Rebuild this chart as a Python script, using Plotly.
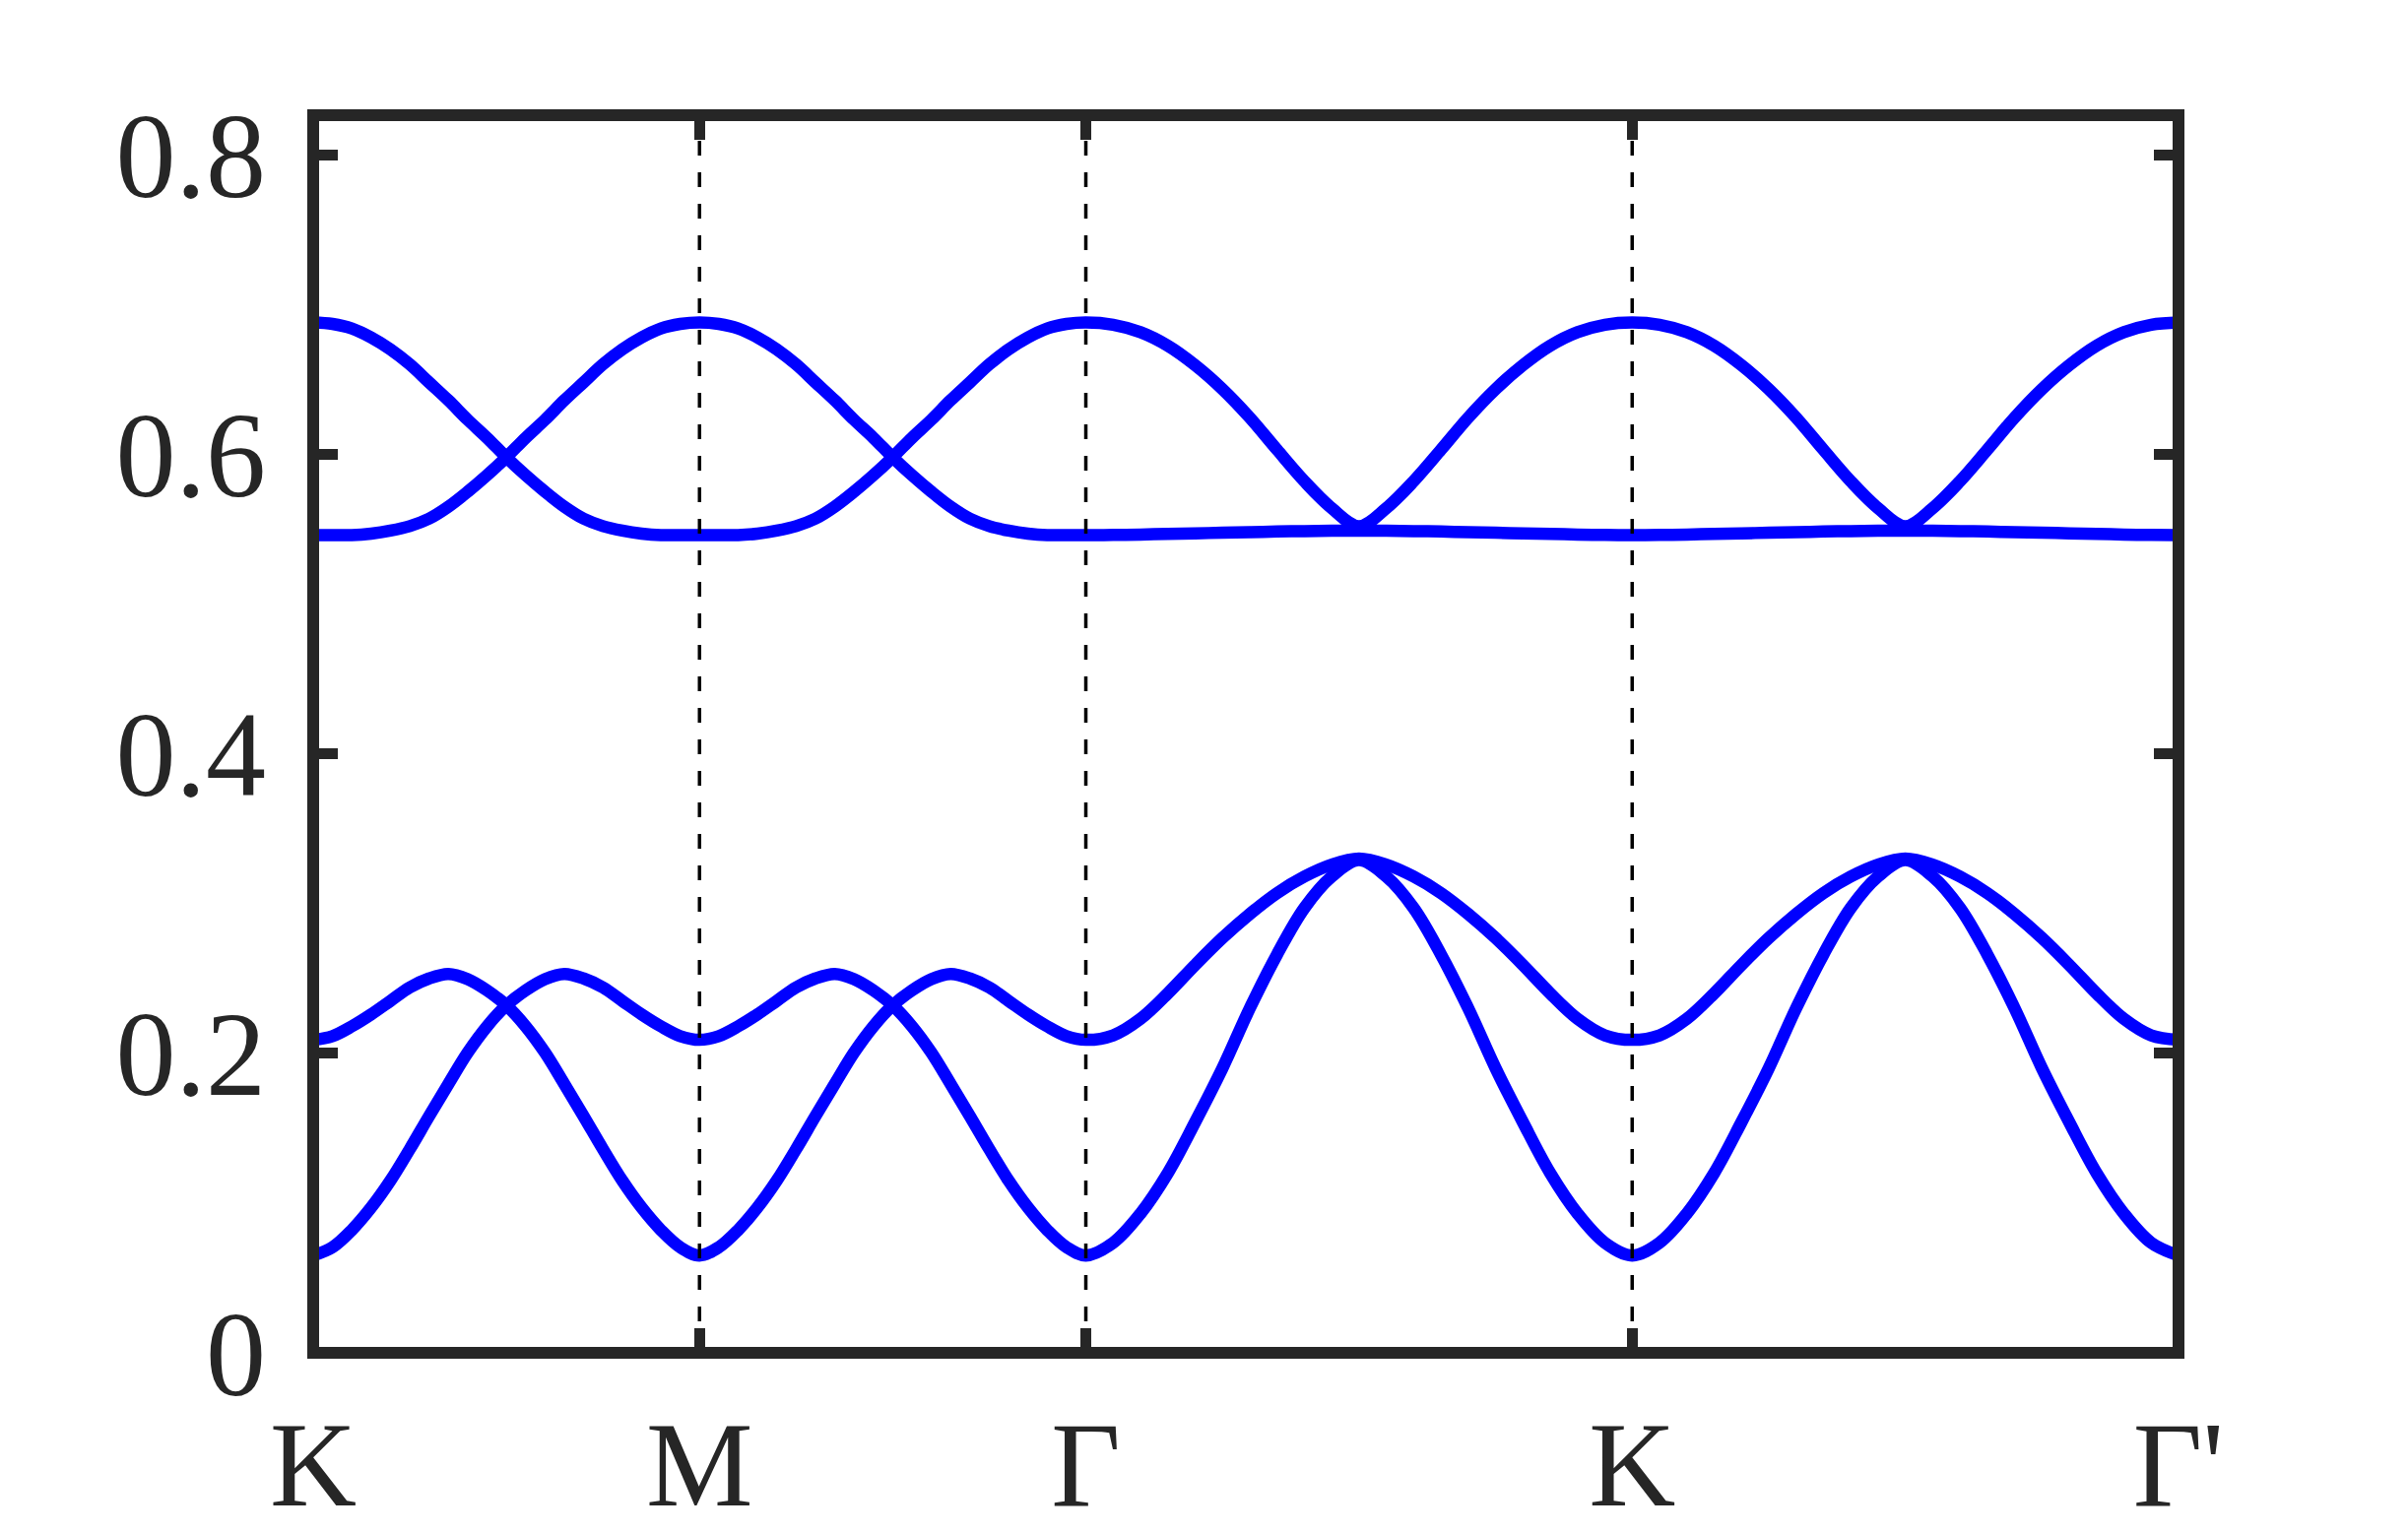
import plotly.graph_objects as go

# ---- path / axes data ----
node_x = [0.0, 1.0, 2.0, 3.4142, 4.8284]
node_labels = ["K", "M", "Γ", "K", "Γ'"]
y_ticks = [0, 0.2, 0.4, 0.6, 0.8]
y_tick_labels = ["0", "0.2", "0.4", "0.6", "0.8"]
y_top = 0.8264

# fractional position along each path segment
t_seg = [0.0, 0.05, 0.1, 0.15, 0.2, 0.25, 0.3, 0.35, 0.4, 0.45, 0.5,
         0.55, 0.6, 0.65, 0.7, 0.75, 0.8, 0.85, 0.9, 0.95, 1.0]

# K -> M (and M -> Gamma mirrored): optical pair
upper_km = [0.688, 0.687, 0.684, 0.678, 0.670, 0.660, 0.648, 0.636, 0.623, 0.611, 0.598,
            0.586, 0.575, 0.565, 0.557, 0.552, 0.549, 0.547, 0.546, 0.546, 0.546]
# K -> M: acoustic pair
lower_km = [0.209, 0.2115, 0.218, 0.226, 0.235, 0.244, 0.250, 0.253, 0.2495, 0.242, 0.232,
            0.218, 0.2005, 0.1795, 0.158, 0.136, 0.115, 0.097, 0.082, 0.0705, 0.065]

# Gamma -> K (and K -> Gamma')
upper_gk = [0.688, 0.6865, 0.6815, 0.6725, 0.6595, 0.6435, 0.6245, 0.603, 0.582, 0.564, 0.552,
            0.564, 0.582, 0.603, 0.6245, 0.6435, 0.6595, 0.6725, 0.6815, 0.6865, 0.688]
flat_gk = [0.546, 0.5461, 0.5464, 0.5468, 0.5472, 0.5476, 0.548, 0.5484, 0.5487, 0.5489, 0.549,
           0.5489, 0.5487, 0.5484, 0.548, 0.5476, 0.5472, 0.5468, 0.5464, 0.5461, 0.546]
mid_gk = [0.209, 0.212, 0.223, 0.240, 0.259, 0.277, 0.293, 0.307, 0.318, 0.326, 0.330,
          0.326, 0.318, 0.307, 0.293, 0.277, 0.259, 0.240, 0.223, 0.212, 0.209]
low_gk = [0.065, 0.0735, 0.093, 0.120, 0.154, 0.190, 0.230, 0.266, 0.297, 0.318, 0.329,
          0.318, 0.297, 0.266, 0.230, 0.190, 0.154, 0.120, 0.093, 0.0735, 0.065]

# which sampled curve each band follows on each of the four segments
band_segments = [
    [upper_km, upper_km[::-1], upper_gk, upper_gk],
    [upper_km[::-1], upper_km, flat_gk, flat_gk],
    [lower_km, lower_km[::-1], mid_gk, mid_gk],
    [lower_km[::-1], lower_km, low_gk, low_gk],
]

BLUE = "#0000ff"
FRAME = "#262626"
FONT = "Liberation Serif"
FSIZE = 122

fig = go.Figure()

for segs in band_segments:
    xs, ys = [], []
    for i, vals in enumerate(segs):
        x0, x1 = node_x[i], node_x[i + 1]
        for j, (t, v) in enumerate(zip(t_seg, vals)):
            if i > 0 and j == 0:
                continue
            xs.append(x0 + t * (x1 - x0))
            ys.append(v)
    fig.add_trace(go.Scatter(x=xs, y=ys, mode="lines",
                             line=dict(color=BLUE, width=12.5, shape="spline",
                                       smoothing=1.0, simplify=False),
                             hoverinfo="skip", showlegend=False))

for xv in node_x:
    fig.add_trace(go.Scatter(x=[xv, xv], y=[0, y_top], mode="lines",
                             line=dict(color="black", width=3.5, dash="15px,17px"),
                             hoverinfo="skip", showlegend=False))

W, H = 2445, 1557
# frame centre lines in page pixels: left 318, right 2212, top 117, bottom 1374
L, R, T, B = 318, 2212, 117, 1374

# box frame centred on the plot-area edges
fig.add_shape(type="rect", xref="paper", yref="paper", x0=0, x1=1, y0=0, y1=1,
              line=dict(color=FRAME, width=12), fillcolor="rgba(0,0,0,0)", layer="above")

axis_common = dict(showgrid=False, zeroline=False, showline=False,
                   mirror="ticks", ticks="inside", ticklen=25, tickwidth=11, tickcolor=FRAME,
                   tickfont=dict(family=FONT, size=FSIZE, color=FRAME), automargin=False,
                   fixedrange=True, tickmode="array")

fig.update_layout(
    width=W, height=H, autosize=False,
    template="none",
    paper_bgcolor="white", plot_bgcolor="white",
    margin=dict(l=L, r=W - R, t=T, b=H - B, pad=0),
    font=dict(family=FONT, size=FSIZE, color=FRAME),
    xaxis=dict(range=[0, node_x[-1]], tickvals=node_x, ticktext=node_labels,
               ticklabelstandoff=32, **axis_common),
    yaxis=dict(range=[0, y_top], tickvals=y_ticks, ticktext=y_tick_labels,
               ticklabelstandoff=47, **axis_common),
)

fig.write_html("out.html", config={"displayModeBar": False},
               post_script="document.body.style.margin='0px';document.body.style.overflow='hidden';")
